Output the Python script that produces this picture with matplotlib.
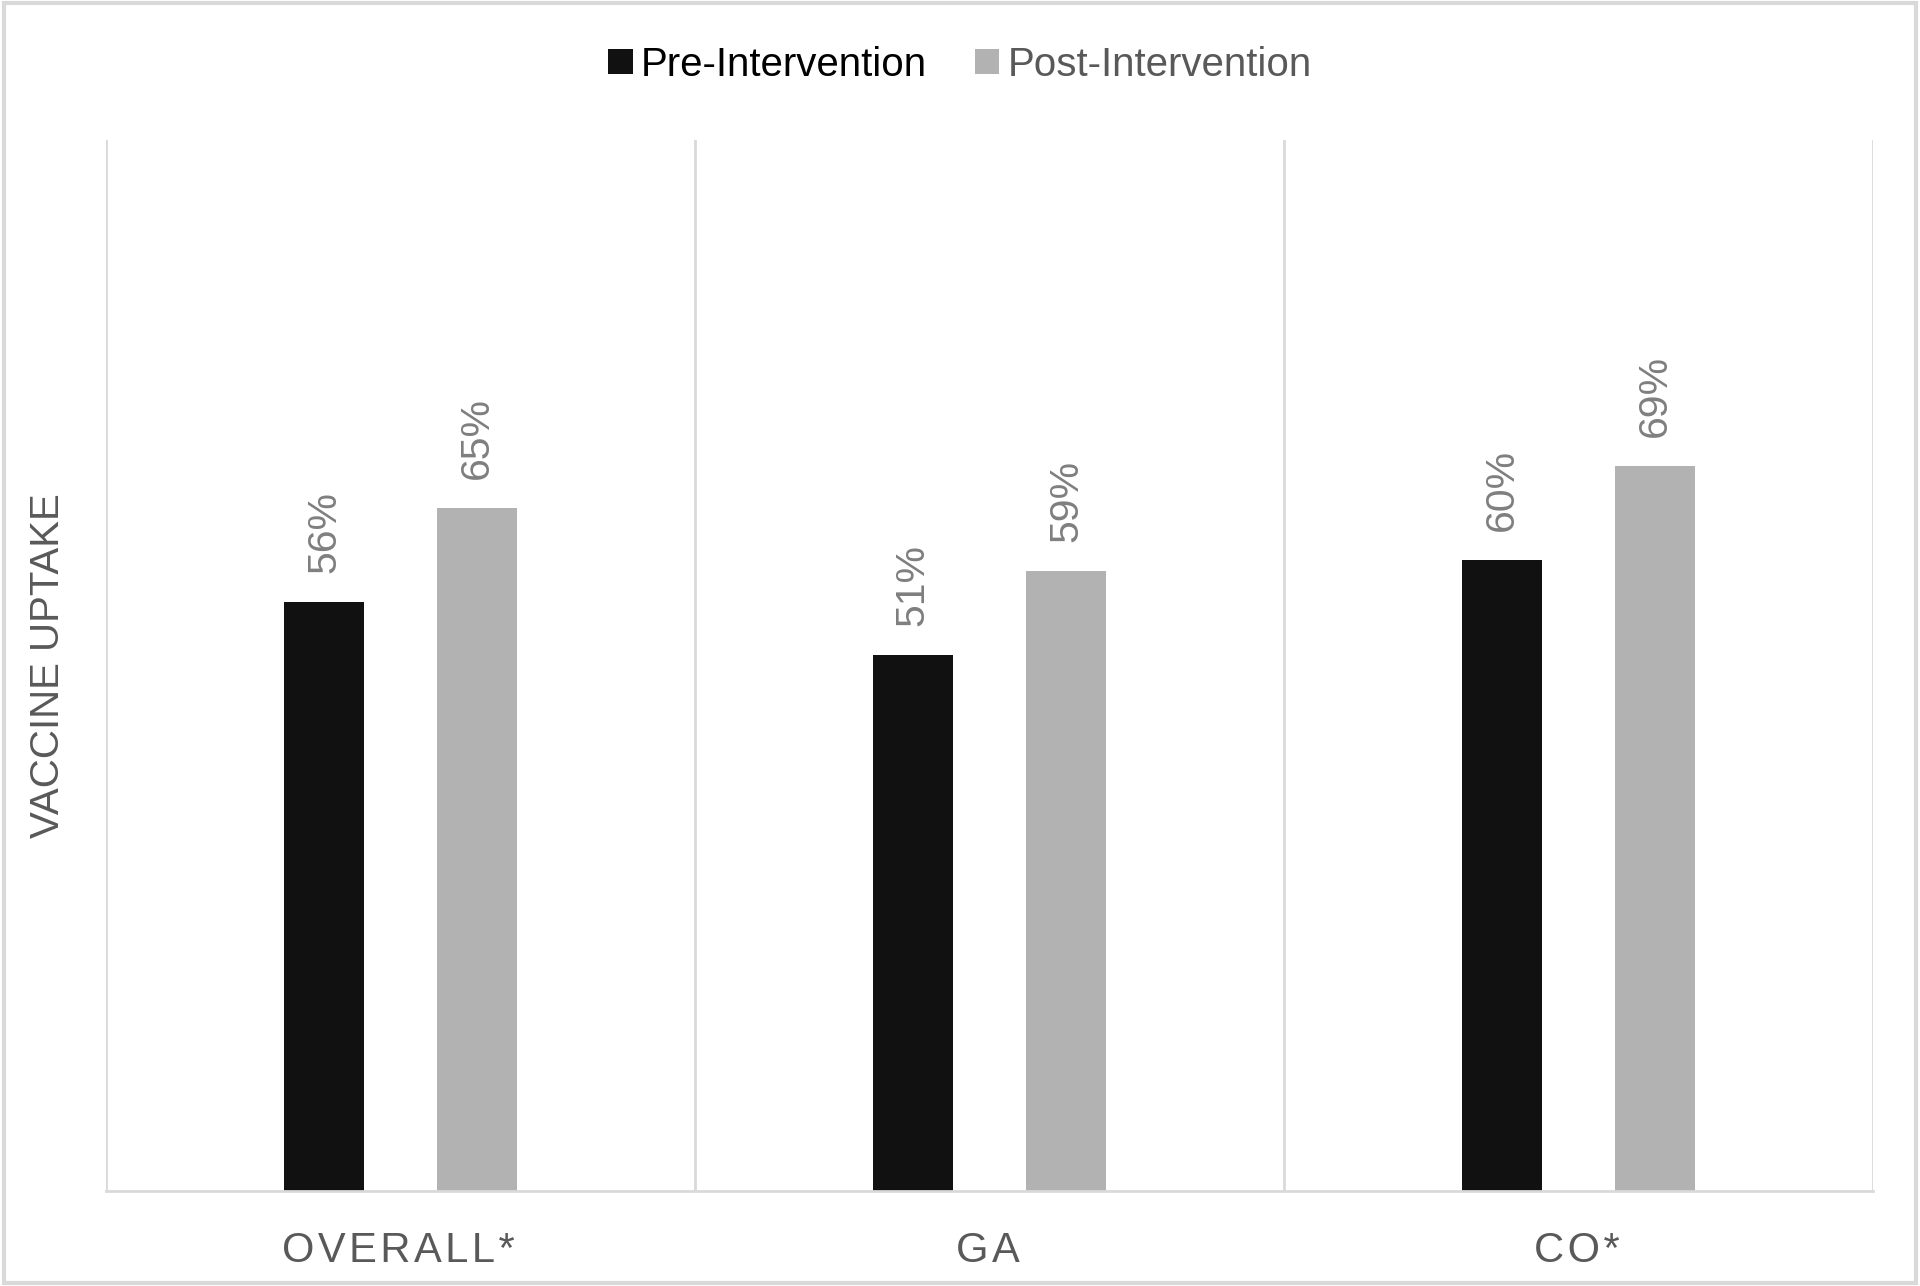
import matplotlib.pyplot as plt
import numpy as np
from matplotlib.patches import Rectangle

categories = ['OVERALL*', 'GA', 'CO*']
pre_values = [56, 51, 60]
post_values = [65, 59, 69]
series_names = ['Pre-Intervention', 'Post-Intervention']

plt.rcParams['font.family'] = ['Liberation Sans', 'DejaVu Sans']

pre_color = '#111111'
post_color = '#b2b2b2'
grid_color = '#d9d9d9'
text_gray = '#595959'
label_gray = '#7f7f7f'

fig = plt.figure(figsize=(19.2, 12.86), dpi=100)
ax = fig.add_axes([0.0552, 0.0739, 0.9203, 0.8172])

x = np.arange(len(categories))
width = 0.137
offset = 0.13
bars_pre = ax.bar(x - offset, pre_values, width, color=pre_color, label=series_names[0])
bars_post = ax.bar(x + offset, post_values, width, color=post_color, label=series_names[1])

for bars in (bars_pre, bars_post):
    for b in bars:
        ax.annotate(f'{b.get_height():.0f}%',
                    (b.get_x() + b.get_width() / 2, b.get_height()),
                    xytext=(0, 21), textcoords='offset points',
                    rotation=90, ha='center', va='bottom',
                    fontsize=29.5, color=label_gray)

ax.set_xlim(-0.5, len(categories) - 0.5)
ax.set_ylim(0, 100)

# category separators like Excel's vertical gridlines
for xv in np.arange(-0.5, len(categories), 1.0):
    ax.axvline(xv, color=grid_color, lw=2, zorder=0)

for s in ['top', 'left', 'right']:
    ax.spines[s].set_visible(False)
ax.spines['bottom'].set_color(grid_color)
ax.spines['bottom'].set_linewidth(2)

ax.set_yticks([])
ax.set_xticks(x)
# letter-spaced category labels (trailing space like Excel's spacing)
spaced = ['\u200a'.join(c) + '\u200a' for c in categories]
ax.set_xticklabels(spaced, fontsize=30, color=text_gray)
ax.tick_params(axis='x', length=0, pad=29)

ax.set_ylabel('VACCINE UPTAKE', fontsize=29, color=text_gray, labelpad=28)

leg = fig.legend(loc='center', bbox_to_anchor=(0.5, 0.9497), ncol=2, frameon=False,
                 fontsize=29, handlelength=0.6, handleheight=0.6, handletextpad=0.2,
                 columnspacing=1.2)
leg.get_texts()[0].set_color('#000000')
leg.get_texts()[1].set_color(text_gray)

# outer chart border
fig.patches.append(Rectangle((0.002, 0.002), 0.996, 0.996, transform=fig.transFigure,
                             fill=False, edgecolor=grid_color, lw=3))

fig.savefig('out.png', dpi=100)
